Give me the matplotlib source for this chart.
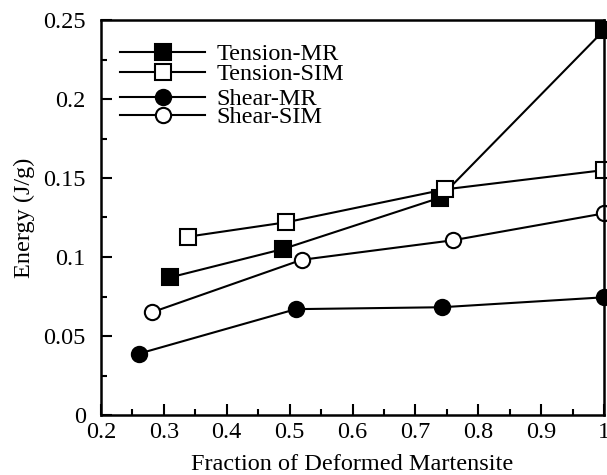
import matplotlib
matplotlib.use("Agg")
import matplotlib.pyplot as plt
from matplotlib.ticker import MultipleLocator, FuncFormatter

plt.rcParams['font.family'] = ['Liberation Serif', 'DejaVu Serif']

# Data
tension_mr_x = [0.310, 0.489, 0.739, 1.0]
tension_mr_y = [0.0871, 0.105, 0.1375, 0.2435]
tension_sim_x = [0.339, 0.495, 0.747, 1.0]
tension_sim_y = [0.1129, 0.122, 0.1428, 0.155]
shear_mr_x = [0.261, 0.510, 0.742, 1.0]
shear_mr_y = [0.0389, 0.067, 0.0682, 0.0745]
shear_sim_x = [0.281, 0.519, 0.760, 1.0]
shear_sim_y = [0.065, 0.0982, 0.1106, 0.1276]

labels = ["Tension-MR", "Tension-SIM", "Shear-MR", "Shear-SIM"]

fig = plt.figure(figsize=(6.07, 4.75), dpi=100)
ax = fig.add_axes([101/607, 1-415/475, 503/607, 395/475])

fs = 17.5
lw = 1.5
ms = 11
common = dict(color='black', lw=lw, ms=ms, mew=1.5, mec='black', clip_on=False)
l1, = ax.plot(tension_mr_x, tension_mr_y, marker='s', mfc='black', label=labels[0], **common)
l2, = ax.plot(tension_sim_x, tension_sim_y, marker='s', mfc='white', label=labels[1], **common)
l3, = ax.plot(shear_mr_x, shear_mr_y, marker='o', mfc='black', label=labels[2], **common)
l4, = ax.plot(shear_sim_x, shear_sim_y, marker='o', mfc='white', label=labels[3], **common)

ax.set_xlim(0.2, 1.0)
ax.set_ylim(0, 0.25)
ax.xaxis.set_major_locator(MultipleLocator(0.1))
ax.xaxis.set_minor_locator(MultipleLocator(0.05))
ax.yaxis.set_major_locator(MultipleLocator(0.05))
ax.yaxis.set_minor_locator(MultipleLocator(0.025))
fmt = FuncFormatter(lambda v, p: ('%g' % round(v, 3)))
ax.xaxis.set_major_formatter(fmt)
ax.yaxis.set_major_formatter(fmt)

ax.tick_params(which='both', direction='in', top=False, right=False, width=1.5, labelsize=fs)
ax.tick_params(which='major', length=8)
ax.tick_params(which='minor', length=4.5)
ax.tick_params(axis='x', which='major', pad=5)
ax.tick_params(axis='y', which='major', pad=11)
for s in ax.spines.values():
    s.set_linewidth(1.8)

ax.set_xlabel("Fraction of Deformed Martensite", fontsize=fs, labelpad=8)
ax.set_ylabel("Energy (J/g)", fontsize=fs, labelpad=6)

legkw = dict(loc='upper left', frameon=False, fontsize=fs, borderpad=0,
             borderaxespad=0, handlelength=3.5, handletextpad=0.48)
leg1 = ax.legend([l1, l2], labels[:2], bbox_to_anchor=(0.038, 0.941),
                 labelspacing=-0.095, **legkw)
ax.add_artist(leg1)
ax.legend([l3, l4], labels[2:], bbox_to_anchor=(0.038, 0.827),
          labelspacing=-0.165, **legkw)

fig.savefig("out.png", dpi=100)
